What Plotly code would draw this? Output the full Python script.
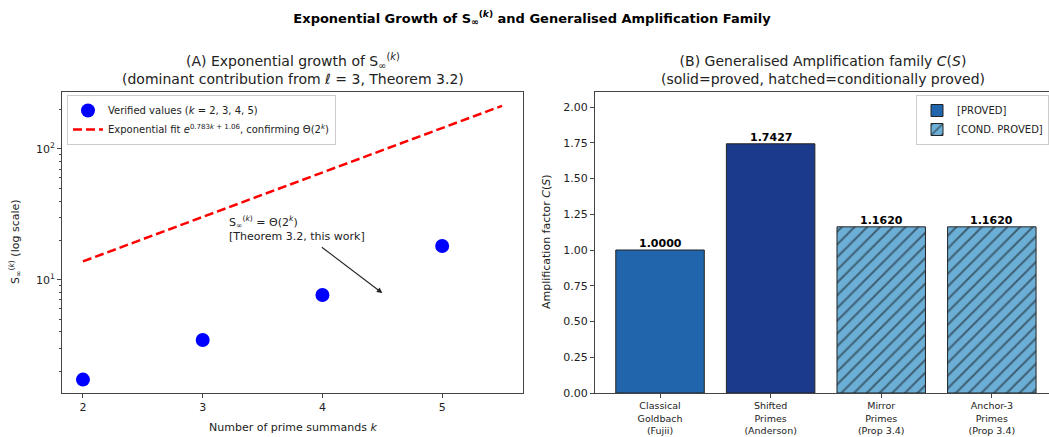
import plotly.graph_objects as go
import math

# ---------------- data ----------------
k_vals = [2, 3, 4, 5]
s_vals = [1.72, 3.46, 7.64, 18.1]
fit_k = [2.0, 5.5]
fit_vals = [13.8, 214.0]

categories = [
    "Classical<br>Goldbach<br>(Fujii)",
    "Shifted<br>Primes<br>(Anderson)",
    "Mirror<br>Primes<br>(Prop 3.4)",
    "Anchor-3<br>Primes<br>(Prop 3.4)",
]
amp_vals = [1.0000, 1.7427, 1.1620, 1.1620]
proved_idx = [0, 1]
cond_idx = [2, 3]
proved_colors = ["#2166ac", "#1b3a8c"]
cond_color = "#6baed6"

W, H = 1049, 437
def px(x):
    return x / W
def py(y):
    return 1 - y / H

FONT = "DejaVu Sans"
AXC = "#444444"

fig = go.Figure()

# -------- left panel --------
fig.add_trace(go.Scatter(
    x=k_vals, y=s_vals, mode="markers",
    marker=dict(color="#0000ff", size=14),
    name="Verified values (<i>k</i> = 2, 3, 4, 5)",
    xaxis="x", yaxis="y", legend="legend",
))
fig.add_trace(go.Scatter(
    x=fit_k, y=fit_vals, mode="lines",
    line=dict(color="#ff0000", width=2.5, dash="9px,4px"),
    name="Exponential fit <i>e</i><sup>0.783<i>k</i> + 1.06</sup>, confirming Θ(2<sup><i>k</i></sup>)",
    xaxis="x", yaxis="y", legend="legend",
))

# -------- right panel --------
fig.add_trace(go.Bar(
    x=proved_idx, y=[amp_vals[i] for i in proved_idx],
    width=0.8,
    marker=dict(color=proved_colors, line=dict(color="#222222", width=1)),
    name="[PROVED]", xaxis="x2", yaxis="y2", legend="legend2",
))
fig.add_trace(go.Bar(
    x=cond_idx, y=[amp_vals[i] for i in cond_idx],
    width=0.8,
    marker=dict(color=cond_color, line=dict(color="#222222", width=1),
                pattern=dict(shape="/", fgcolor="#111111", bgcolor=cond_color,
                             size=9, solidity=0.22, fillmode="overlay")),
    name="[COND. PROVED]", xaxis="x2", yaxis="y2", legend="legend2",
))

minor_vals = [m * 10 ** e for e in (0, 1, 2) for m in range(2, 10)]

fig.update_layout(
    width=W, height=H,
    margin=dict(l=0, r=0, t=0, b=0),
    paper_bgcolor="white", plot_bgcolor="white",
    font=dict(family=FONT, size=11, color="#222222"),
    barmode="overlay",
    showlegend=True,
    title=dict(
        text="<b>Exponential Growth of S<sub>∞</sub><sup>(<i>k</i>)</sup> and Generalised Amplification Family</b>",
        x=px(532), y=py(18), xanchor="center", yanchor="middle",
        font=dict(size=13, color="black"),
    ),
    xaxis=dict(
        domain=[px(62), px(523)], range=[1.825, 5.675], anchor="y",
        tickvals=k_vals, ticks="outside", ticklen=4, tickcolor=AXC,
        showline=True, linecolor=AXC, mirror=True, showgrid=False, zeroline=False,
        tickfont=dict(size=11), automargin=False,
    ),
    yaxis=dict(
        domain=[py(393), py(92)], type="log", range=[0.133, 2.436], anchor="x",
        tickvals=[10, 100], ticktext=["10<sup>1</sup>", "10<sup>2</sup>"],
        ticks="outside", ticklen=4, tickcolor=AXC,
        minor=dict(tickmode="array", tickvals=minor_vals, ticks="outside", ticklen=2.5,
                   tickcolor=AXC, showgrid=False),
        showline=True, linecolor=AXC, mirror=True, showgrid=False, zeroline=False,
        tickfont=dict(size=11), automargin=False,
    ),
    xaxis2=dict(
        domain=[px(595), 1.0], range=[-0.588, 3.517], anchor="y2",
        tickvals=[0, 1, 2, 3], ticktext=categories, ticks="outside", ticklen=4, tickcolor=AXC,
        showline=True, linecolor=AXC, mirror=True, showgrid=False, zeroline=False,
        tickfont=dict(size=9.5), automargin=False,
    ),
    yaxis2=dict(
        domain=[py(393), py(92)], range=[0, 2.105], anchor="x2",
        tickvals=[0, 0.25, 0.5, 0.75, 1.0, 1.25, 1.5, 1.75, 2.0], tickformat=".2f",
        ticks="outside", ticklen=4, tickcolor=AXC,
        showline=True, linecolor=AXC, mirror=False, showgrid=False, zeroline=False,
        tickfont=dict(size=11), automargin=False,
    ),
    legend=dict(
        x=px(67), y=py(95), xanchor="left", yanchor="top",
        bgcolor="rgba(255,255,255,0.85)", bordercolor="#cccccc", borderwidth=1,
        font=dict(size=10), tracegroupgap=0, itemwidth=30,
    ),
    legend2=dict(
        x=1.0, y=py(95), xanchor="right", yanchor="top",
        bgcolor="rgba(255,255,255,0.85)", bordercolor="#cccccc", borderwidth=1,
        font=dict(size=10), tracegroupgap=0, itemwidth=30,
    ),
)

annotations = [
    # subplot titles
    dict(text="(A) Exponential growth of S<sub>∞</sub><sup>(<i>k</i>)</sup><br>(dominant contribution from <i>ℓ</i> = 3, Theorem 3.2)",
         x=px(292.5), y=py(89), xref="paper", yref="paper", xanchor="center", yanchor="bottom",
         showarrow=False, font=dict(size=14, color="#222222")),
    dict(text="(B) Generalised Amplification family <i>C</i>(<i>S</i>)<br>(solid=proved, hatched=conditionally proved)",
         x=px(823), y=py(89), xref="paper", yref="paper", xanchor="center", yanchor="bottom",
         showarrow=False, font=dict(size=14, color="#222222")),
    # axis titles
    dict(text="Number of prime summands <i>k</i>", x=px(292.5), y=py(427),
         xref="paper", yref="paper", xanchor="center", yanchor="middle",
         showarrow=False, font=dict(size=11)),
    dict(text="S<sub>∞</sub><sup>(<i>k</i>)</sup> (log scale)", x=px(15), y=py(242),
         xref="paper", yref="paper", xanchor="center", yanchor="middle", textangle=-90,
         showarrow=False, font=dict(size=11)),
    dict(text="Amplification factor <i>C</i>(<i>S</i>)", x=px(546), y=py(242),
         xref="paper", yref="paper", xanchor="center", yanchor="middle", textangle=-90,
         showarrow=False, font=dict(size=11)),
    # annotation text in left panel
    dict(text="S<sub>∞</sub><sup>(<i>k</i>)</sup> = Θ(2<sup><i>k</i></sup>)<br>[Theorem 3.2, this work]",
         x=3.2, y=math.log10(33), xref="x", yref="y", xanchor="left", yanchor="top",
         align="left", showarrow=False, font=dict(size=11, color="#222222")),
    # arrow
    dict(text="", x=4.5, y=math.log10(7.9), xref="x", yref="y",
         ax=-62, ay=-47, axref="pixel", ayref="pixel",
         showarrow=True, arrowhead=2, arrowsize=1, arrowwidth=1.1, arrowcolor="#222222"),
]
# bar value labels
for i, v in enumerate(amp_vals):
    annotations.append(dict(
        text=f"<b>{v:.4f}</b>", x=i, y=v, xref="x2", yref="y2",
        xanchor="center", yanchor="bottom", yshift=-2, showarrow=False,
        font=dict(size=11, color="black"),
    ))
fig.update_layout(annotations=annotations)

fig.write_html("out.html")
